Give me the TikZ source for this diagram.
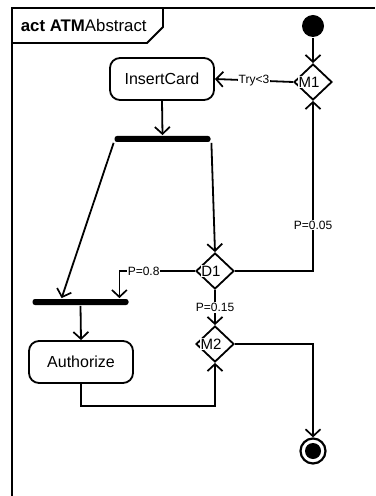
\documentclass[tikz,border=0pt]{standalone}
\usepackage{fontspec}
\setmainfont{Liberation Sans}
\usetikzlibrary{arrows.meta,shapes.geometric}
\begin{document}
\begin{tikzpicture}[x=1bp,y=-1bp, line width=1.8bp,
 flow/.style={-{Straight Barb[length=7bp,width=15bp,line width=1.7bp]}},
 action/.style={draw, rounded corners=10bp, minimum width=104bp, minimum height=42bp, font=\fontsize{16bp}{18bp}\selectfont, inner sep=0},
 bar/.style={fill, rounded corners=2.5bp, minimum width=96bp, minimum height=6bp, inner sep=0},
 dec/.style={draw, diamond, minimum width=38bp, minimum height=36bp, inner sep=0},
 dectext/.style={fill=white, inner sep=0.5bp, font=\fontsize{15bp}{17bp}\selectfont},
 lbl/.style={fill=white, inner sep=1bp, font=\fontsize{12bp}{14bp}\selectfont}]
\useasboundingbox (0,0) rectangle (375,496);
% frame
\draw (12,496) -- (12,8) -- (375,8);
\draw (12,43) -- (147,43) -- (163,27) -- (163,8);
\node[anchor=west, inner sep=0, font=\fontsize{16.8bp}{19bp}\selectfont] (title) at (20,25) {\textbf{act ATM}Abstract};
% nodes
\node[circle, fill, minimum size=22bp, inner sep=0] (init) at (313,26) {};
\node[dec] (m1) at (313,82) {};
\node[dectext] (m1t) at (309,82) {M1};
\node[action] (ic) at (162,79) {InsertCard};
\node[bar] (bar1) at (162.5,139) {};
\node[bar] (bar2) at (80.5,302) {};
\node[dec] (d1) at (215,271) {};
\node[dectext] (d1t) at (211,271) {D1};
\node[dec] (m2) at (215,344) {};
\node[dectext] (m2t) at (211,344) {M2};
\node[action] (auth) at (81,362) {Authorize};
\node[circle, draw, line width=2.2bp, minimum size=25bp, inner sep=0] (final) at (313,451) {};
\node[circle, fill, minimum size=16bp, inner sep=0] (finalin) at (final) {};
\coordinate (b2a) at ([xshift=30bp]bar2.north west);
\coordinate (b2b) at ([xshift=-10bp]bar2.north east);
% connectors
\draw[flow] (init) -- (m1.north);
\draw[flow] (m1.west) -- node[lbl]{Try<3} (ic.east);
\draw[flow] (ic.south) -- (bar1.north);
\draw[flow] (bar1.south west) -- (b2a);
\draw[flow] (bar1.south east) -- (d1.north);
\draw[flow] (d1.west) -| node[lbl, pos=0.34]{P=0.8} (b2b);
\draw[flow] (d1.east) -| node[lbl, pos=0.635]{P=0.05} (m1.south);
\draw[flow] (d1.south) -- node[lbl]{P=0.15} (m2.north);
\draw[flow] (bar2.south) -- (auth.north);
\draw[flow] (auth.south) -- ++(0,22) -| (m2.south);
\draw[flow] (m2.east) -| (final.north);
\end{tikzpicture}
\end{document}
